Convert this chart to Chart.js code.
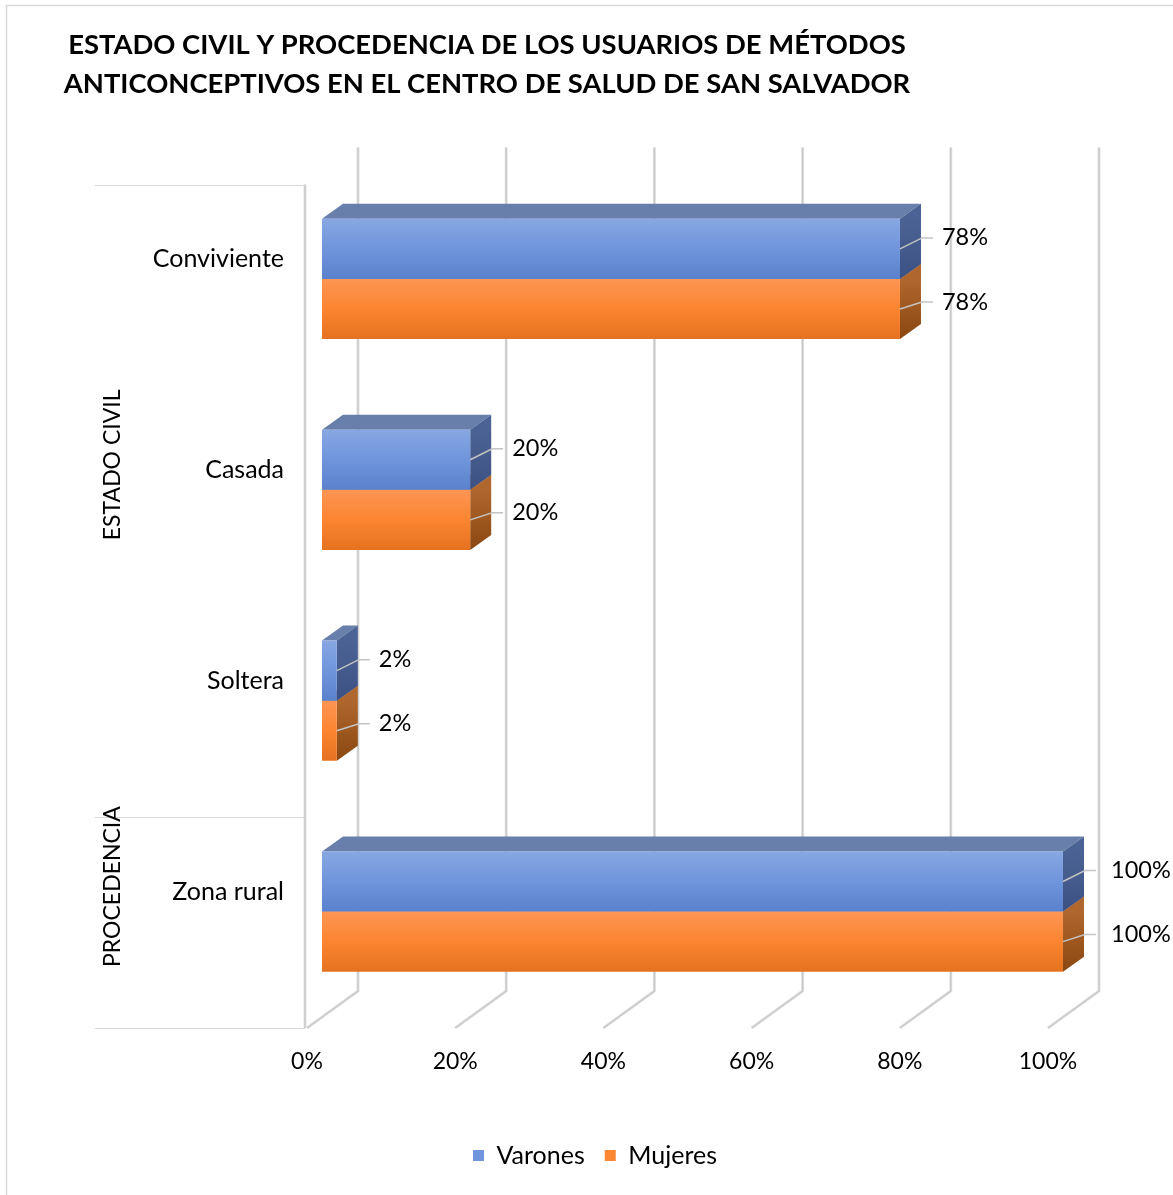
<!DOCTYPE html>
<html lang="es">
<head>
<meta charset="utf-8">
<title>Estado civil y procedencia</title>
<script src="https://cdn.jsdelivr.net/npm/chart.js@4/dist/chart.umd.min.js"></script>
<style>
  html, body { margin: 0; padding: 0; background: #fff; }
  #wrap { width: 1173px; height: 1195px; position: relative; }
</style>
</head>
<body>
<div id="wrap"><canvas id="myChart" width="1173" height="1195"></canvas></div>
<script>
const titleLines = ['ESTADO CIVIL Y PROCEDENCIA DE LOS USUARIOS DE MÉTODOS',
                    'ANTICONCEPTIVOS EN EL CENTRO DE SALUD DE SAN SALVADOR'];
const categories = ['Conviviente', 'Casada', 'Soltera', 'Zona rural'];
const groupLabels = ['ESTADO CIVIL', 'PROCEDENCIA'];
const groupSizes = [3, 1];
const varones = [78, 20, 2, 100];
const mujeres = [78, 20, 2, 100];
const xTicks = [0, 20, 40, 60, 80, 100];

const FONT = 'Lato';
const CAT_PCT = 0.57;
// offsets of the pseudo-3D planes relative to the bar front plane
const BAR_D = { x: 21, y: -15 };
const WALL_D = { x: 36, y: -26 };
const FLOOR_D = { x: -15, y: 11 };
const GRID = '#c9c9c9';

function frontFill(base, stops) {
    return (c) => {
        const chart = c.chart;
        const ys = chart.scales && chart.scales.y;
        if (!chart.chartArea || !ys || c.dataIndex == null) return base;
        const band = ys.height / categories.length;
        const bw = band * CAT_PCT / 2;
        const top = ys.getPixelForValue(c.dataIndex) - bw + c.datasetIndex * bw;
        const g = chart.ctx.createLinearGradient(0, top, 0, top + bw);
        g.addColorStop(0, stops[0]);
        g.addColorStop(0.5, stops[1]);
        g.addColorStop(1, stops[2]);
        return g;
    };
}

const faces = [
    { top: '#687fac', side: ['#4b6394', '#3c5183'] },
    { top: '#b8733c', side: ['#b0672d', '#8a4711'] }
];

function line(ctx, pts, color, width) {
    ctx.beginPath();
    ctx.moveTo(pts[0][0], pts[0][1]);
    for (let i = 1; i < pts.length; i++) ctx.lineTo(pts[i][0], pts[i][1]);
    ctx.strokeStyle = color;
    ctx.lineWidth = width;
    ctx.stroke();
}

function poly(ctx, pts, fill) {
    ctx.beginPath();
    ctx.moveTo(pts[0][0], pts[0][1]);
    for (let i = 1; i < pts.length; i++) ctx.lineTo(pts[i][0], pts[i][1]);
    ctx.closePath();
    ctx.fillStyle = fill;
    ctx.fill();
}

const depth3d = {
    id: 'depth3d',
    beforeDraw(chart) {
        const ctx = chart.ctx;
        ctx.save();
        ctx.strokeStyle = '#d9d9d9';
        ctx.lineWidth = 1.5;
        ctx.strokeRect(6.5, 5.5, chart.width + 10, chart.height + 10);
        ctx.fillStyle = '#000';
        ctx.font = `bold 27.4px ${FONT}`;
        ctx.textAlign = 'center';
        ctx.textBaseline = 'middle';
        ctx.fillText(titleLines[0], 487, 45);
        ctx.fillText(titleLines[1], 487, 84);
        ctx.restore();
    },
    beforeDatasetsDraw(chart) {
        const ctx = chart.ctx;
        const area = chart.chartArea;
        const xs = chart.scales.x;
        const band = (area.bottom - area.top) / categories.length;
        ctx.save();

        // back wall gridlines and their floor continuation
        xTicks.forEach(v => {
            const xf = xs.getPixelForValue(v);
            const pts = [
                [xf + WALL_D.x, area.top + WALL_D.y],
                [xf + WALL_D.x, area.bottom + WALL_D.y],
                [xf + FLOOR_D.x, area.bottom + FLOOR_D.y]
            ];
            line(ctx, pts, '#e4e4e4', 3);
            line(ctx, pts, GRID, 1.5);
        });

        // category axis edge and group separators
        const ax = area.left + FLOOR_D.x - 2;
        line(ctx, [[ax, area.top + FLOOR_D.y], [ax, area.bottom + FLOOR_D.y]], '#e2e2e2', 3);
        line(ctx, [[ax, area.top + FLOOR_D.y], [ax, area.bottom + FLOOR_D.y]], GRID, 1.5);
        let idx = 0;
        const bounds = [0];
        groupSizes.forEach(n => { idx += n; bounds.push(idx); });
        bounds.forEach(b => {
            const y = Math.round(area.top + band * b + FLOOR_D.y) + 0.5;
            line(ctx, [[95, y], [ax, y]], '#d9d9d9', 1.2);
        });
        ctx.fillStyle = '#000';
        ctx.font = `23px ${FONT}`;
        ctx.textAlign = 'center';
        ctx.textBaseline = 'middle';
        groupLabels.forEach((g, i) => {
            const y0 = area.top + band * bounds[i] + FLOOR_D.y;
            const y1 = area.top + band * bounds[i + 1] + FLOOR_D.y;
            ctx.save();
            ctx.translate(113, (y0 + y1) / 2 - 36);
            ctx.rotate(-Math.PI / 2);
            ctx.fillText(g, 0, 0);
            ctx.restore();
        });

        // top and side faces, lower series first so the upper one covers it
        for (let d = chart.data.datasets.length - 1; d >= 0; d--) {
            const meta = chart.getDatasetMeta(d);
            meta.data.forEach(el => {
                const p = el.getProps(['x', 'y', 'base', 'height'], true);
                const t = p.y - p.height / 2, b = p.y + p.height / 2;
                poly(ctx, [[p.base, t], [p.x, t], [p.x + BAR_D.x, t + BAR_D.y], [p.base + BAR_D.x, t + BAR_D.y]], faces[d].top);
                const g = ctx.createLinearGradient(0, t, 0, b);
                g.addColorStop(0, faces[d].side[0]);
                g.addColorStop(1, faces[d].side[1]);
                poly(ctx, [[p.x, t], [p.x + BAR_D.x, t + BAR_D.y], [p.x + BAR_D.x, b + BAR_D.y], [p.x, b]], g);
            });
        }
        ctx.restore();
    },
    afterDatasetsDraw(chart) {
        const ctx = chart.ctx;
        ctx.save();
        ctx.font = `23.5px ${FONT}`;
        ctx.fillStyle = '#000';
        ctx.textAlign = 'left';
        ctx.textBaseline = 'middle';
        chart.data.datasets.forEach((ds, d) => {
            const meta = chart.getDatasetMeta(d);
            meta.data.forEach((el, i) => {
                const p = el.getProps(['x', 'y'], true);
                const ly = p.y - (d === 0 ? 11 : 7);
                line(ctx, [[p.x, p.y], [p.x + 22, ly], [p.x + 33, ly]], '#c4c4c4', 1.5);
                ctx.fillText(ds.data[i] + '%', p.x + (ds.data[i] >= 100 ? 48 : 42), ly);
            });
        });
        ctx.restore();
    }
};

Chart.defaults.font.family = FONT;
Chart.defaults.color = '#000';

const ctx = document.getElementById('myChart').getContext('2d');
const myChart = new Chart(ctx, {
    type: 'bar',
    data: {
        labels: categories,
        datasets: [{
            label: 'Varones',
            data: varones,
            backgroundColor: frontFill('#6f95dc', ['#88a7e2', '#6f95dc', '#5a81cc'])
        }, {
            label: 'Mujeres',
            data: mujeres,
            backgroundColor: frontFill('#fb8633', ['#fd9554', '#fb8530', '#e57220'])
        }]
    },
    options: {
        indexAxis: 'y',
        responsive: false,
        animation: false,
        devicePixelRatio: 1,
        categoryPercentage: CAT_PCT,
        barPercentage: 1,
        layout: { padding: { left: 127, right: 110, top: 173.5, bottom: 17 } },
        plugins: {
            legend: {
                position: 'bottom',
                labels: {
                    boxWidth: 11,
                    boxHeight: 11,
                    padding: 20,
                    font: { size: 25 },
                    generateLabels(chart) {
                        return chart.data.datasets.map((ds, i) => ({
                            text: ds.label,
                            fillStyle: i === 0 ? '#6f95dc' : '#fb8633',
                            strokeStyle: 'rgba(0,0,0,0)',
                            lineWidth: 0,
                            datasetIndex: i
                        }));
                    }
                }
            },
            tooltip: { enabled: false }
        },
        scales: {
            x: {
                min: 0,
                max: 100,
                afterBuildTicks(scale) { scale.ticks = xTicks.map(v => ({ value: v })); },
                afterFit(scale) { scale.height = 106; },
                grid: { display: false, drawTicks: false },
                border: { display: false },
                ticks: {
                    padding: 31,
                    labelOffset: -15,
                    font: { size: 23 },
                    callback: v => v + '%'
                }
            },
            y: {
                afterFit(scale) { scale.width = 322 - 127; },
                grid: { display: false, drawTicks: false },
                border: { display: false },
                ticks: {
                    padding: 38,
                    labelOffset: -20,
                    font: { size: 25 }
                }
            }
        }
    },
    plugins: [depth3d]
});
</script>
</body>
</html>
